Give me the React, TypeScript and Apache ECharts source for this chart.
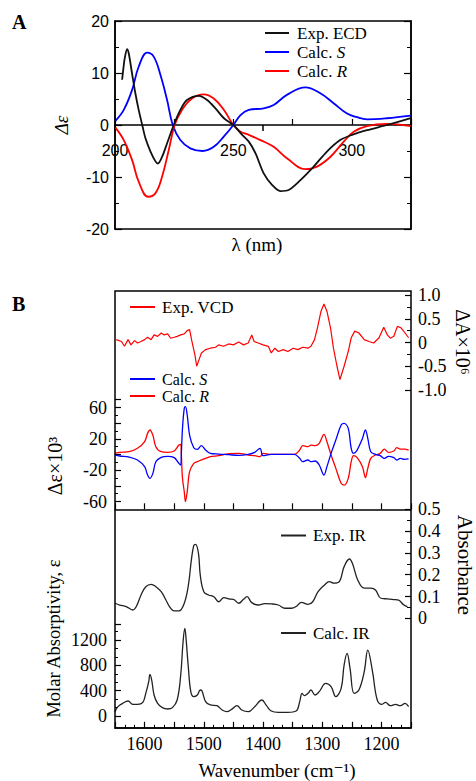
import React, { useEffect, useRef } from 'react';
import * as echarts from 'echarts';

// ---------- Panel A: ECD (wavelength in nm, Δε) ----------
const ecdExpX = [203.0, 203.4, 204.1, 205.1, 205.8, 207.2, 208.6, 210.0, 211.5, 212.9, 215.0, 217.1, 218.1, 219.9, 222.0, 224.8, 227.6, 230.4, 235.4, 238.9, 242.4, 246.0, 250.0, 253.7, 256.5, 259.3, 262.8, 266.3, 269.8, 273.3, 278.3, 283.9, 289.5, 295.1, 300.1, 306.4, 314.8, 324.9];
const ecdExpY = [8.7, 10.3, 12.8, 14.6, 13.8, 9.9, 6.1, 2.9, 0, -2.6, -5.1, -7.0, -7.4, -6.1, -3.5, 0, 2.9, 4.8, 5.6, 4.8, 3.2, 1.3, 0, -1.9, -3.2, -5.4, -9.3, -11.5, -12.7, -12.5, -10.6, -8.0, -5.1, -2.9, -1.9, -1.0, 0, 1.3];

const ecdSX = [200.2, 203.7, 207.2, 210.0, 213.6, 216.4, 219.2, 222.0, 224.4, 227.6, 231.8, 237.0, 241.7, 246.0, 250.0, 253.0, 256.5, 262.8, 267.0, 272.6, 280.4, 286.7, 292.3, 298.0, 302.2, 306.4, 314.8, 324.9];
const ecdSY = [0.8, 2.9, 6.7, 11.2, 13.9, 13.1, 9.6, 4.8, 0, -2.9, -4.5, -5.0, -4.2, -2.2, 0, 1.9, 2.9, 3.2, 3.85, 5.8, 7.25, 6.1, 4.2, 2.2, 1.5, 1.1, 1.3, 1.8];

const ecdRX = [200.2, 203.7, 207.2, 210.0, 214.0, 217.1, 219.9, 222.7, 225.2, 228.3, 232.5, 237.5, 241.7, 246.0, 250.0, 253.0, 256.5, 261.4, 267.0, 272.6, 280.4, 285.3, 291.0, 296.6, 300.8, 306.4, 314.8, 324.9];
const ecdRY = [-0.5, -2.9, -6.7, -10.9, -13.8, -13.1, -9.9, -4.8, 0, 2.9, 5.1, 5.9, 5.1, 2.9, 0, -1.3, -1.9, -2.9, -4.2, -6.4, -8.5, -8.0, -6.1, -3.2, -1.3, -0.2, 0.2, -0.2];

// ---------- Panel B: VCD / IR (wavenumber in cm-1) ----------
const vcdExpX = [1648, 1639, 1634, 1628, 1623, 1617, 1612, 1606, 1600, 1595, 1589, 1584, 1578, 1572, 1567, 1561, 1556, 1550, 1545, 1539, 1533, 1528, 1524, 1520, 1515, 1512, 1508, 1504, 1497, 1489, 1480, 1475, 1467, 1458, 1450, 1441, 1433, 1425, 1419, 1415, 1408, 1400, 1391, 1386, 1380, 1374, 1366, 1358, 1349, 1341, 1333, 1324, 1319, 1313, 1308, 1302, 1297, 1292, 1286, 1281, 1275, 1270, 1263, 1256, 1251, 1245, 1238, 1229, 1221, 1213, 1204, 1196, 1190, 1185, 1179, 1173, 1167, 1160, 1154];
const vcdExpY = [0.06, 0.02, -0.08, 0.06, -0.05, 0.04, -0.01, 0.02, 0.06, 0.11, 0.06, 0.16, 0.13, 0.20, 0.16, 0.18, 0.09, 0.11, 0.13, 0.16, 0.18, 0.25, 0.27, 0.02, -0.26, -0.50, -0.36, -0.22, -0.15, -0.12, -0.10, -0.05, -0.08, -0.03, -0.05, 0.01, -0.05, -0.01, 0.16, 0.02, -0.01, -0.05, -0.08, -0.22, -0.12, -0.19, -0.15, -0.19, -0.12, -0.15, -0.10, -0.12, -0.08, 0.06, 0.31, 0.66, 0.81, 0.66, 0.31, -0.12, -0.50, -0.78, -0.50, -0.19, 0.10, 0.24, 0.20, 0.06, 0.02, -0.01, 0.10, 0.32, 0.16, 0.09, 0.13, 0.34, 0.31, 0.20, 0.10];

const vcdCalcX = [1650, 1642, 1626, 1612, 1600, 1595, 1591, 1586, 1581, 1572, 1561, 1550, 1542, 1539, 1538, 1536, 1533, 1531, 1528, 1524, 1517, 1511, 1504, 1497, 1489, 1475, 1458, 1441, 1425, 1414, 1405, 1400, 1386, 1347, 1338, 1333, 1324, 1319, 1312, 1305, 1297, 1292, 1285, 1277, 1268, 1263, 1256, 1251, 1247, 1241, 1232, 1227, 1223, 1218, 1210, 1202, 1195, 1188, 1179, 1174, 1168, 1161, 1154];
const vcdRY = [1.5, 2.8, 3.6, 7.9, 16.4, 27.0, 31.3, 24.6, 10.0, 3.6, 2.8, 4.5, 12.1, 13.0, 1.5, -30.4, -47.5, -60.2, -47.5, -21.9, -11.3, -9.2, -7.0, -4.9, -2.8, -1.5, 1.1, 1.5, -0.6, -1.5, -2.8, 1.5, 0.2, 0.2, 5.7, 11.3, 10.0, 12.1, 11.3, 14.3, 25.8, 16.4, -0.6, -17.7, -36.8, -39.0, -30.4, -9.2, -1.5, -4.0, -15.5, -29.6, -17.7, -4.9, -0.6, 1.5, 7.0, 2.8, 4.5, 8.7, 7.0, 7.0, 5.7];
const vcdSY = [-0.6, -1.9, -3.2, -7.0, -15.5, -26.2, -30.4, -24.1, -9.2, -3.6, -2.3, -4.0, -11.3, -13.4, -0.6, 33.4, 59.0, 61.1, 50.4, 24.9, 8.7, 6.6, 11.3, 5.7, 1.5, 0.6, -0.2, -1.1, 0.2, 2.8, 7.9, -1.5, 0.2, 0.2, -4.9, -9.2, -7.0, -9.2, -8.3, -13.4, -26.2, -15.5, 1.5, 18.5, 37.7, 39.8, 33.4, 7.9, 1.5, 5.7, 20.6, 31.3, 20.6, 3.6, 0.2, -1.5, -4.9, -2.3, -4.0, -7.0, -4.9, -6.2, -5.7];

const irExpX = [1650, 1642, 1631, 1620, 1614, 1606, 1598, 1589, 1581, 1572, 1564, 1558, 1550, 1542, 1533, 1526, 1521, 1517, 1514, 1509, 1506, 1500, 1492, 1483, 1475, 1466, 1458, 1450, 1441, 1433, 1427, 1419, 1408, 1397, 1386, 1374, 1363, 1352, 1344, 1335, 1324, 1316, 1307, 1296, 1288, 1280, 1271, 1263, 1254, 1249, 1240, 1229, 1218, 1210, 1201, 1190, 1179, 1171, 1162, 1156];
const irExpY = [0.069, 0.061, 0.054, 0.038, 0.054, 0.107, 0.145, 0.156, 0.145, 0.122, 0.084, 0.054, 0.034, 0.034, 0.069, 0.153, 0.268, 0.333, 0.339, 0.298, 0.199, 0.122, 0.107, 0.099, 0.076, 0.095, 0.089, 0.087, 0.069, 0.087, 0.099, 0.072, 0.061, 0.067, 0.066, 0.061, 0.046, 0.046, 0.054, 0.073, 0.064, 0.076, 0.122, 0.153, 0.168, 0.161, 0.168, 0.237, 0.272, 0.252, 0.176, 0.138, 0.138, 0.130, 0.092, 0.089, 0.086, 0.083, 0.061, 0.054];

const irCalcX = [1650, 1645, 1637, 1628, 1620, 1612, 1603, 1598, 1593, 1591, 1588, 1584, 1578, 1570, 1561, 1553, 1545, 1539, 1535, 1532, 1530, 1526, 1522, 1517, 1511, 1506, 1503, 1497, 1489, 1478, 1469, 1461, 1453, 1444, 1436, 1425, 1414, 1402, 1394, 1386, 1374, 1358, 1344, 1338, 1334, 1330, 1324, 1319, 1312, 1305, 1294, 1285, 1277, 1268, 1263, 1258, 1253, 1246, 1238, 1229, 1223, 1215, 1207, 1199, 1193, 1185, 1176, 1168, 1160, 1154];
const irCalcY = [68, 148, 200, 237, 184, 184, 216, 358, 543, 659, 569, 332, 200, 132, 111, 132, 253, 648, 1175, 1386, 1228, 754, 385, 306, 332, 411, 395, 227, 174, 163, 95, 68, 105, 163, 95, 68, 148, 253, 163, 79, 58, 58, 79, 227, 358, 321, 358, 411, 332, 385, 516, 464, 306, 437, 806, 991, 754, 358, 411, 701, 1043, 701, 253, 184, 216, 163, 184, 163, 200, 148];

const zip = (xs: number[], ys: number[]) => xs.map((x, i) => [x, ys[i]]);

const SERIF = '"Liberation Serif", "Times New Roman", "DejaVu Serif", serif';
const SANS = '"Liberation Sans", Arial, sans-serif';
const RED = '#ff0000';
const BLUE = '#0000ff';
const BLACK = '#111111';

export default function App() {
  const ref = useRef<HTMLDivElement>(null);

  useEffect(() => {
    document.body.style.margin = '0';
    const chart = echarts.init(ref.current as HTMLDivElement, null, { renderer: 'svg' });

    const tick = (len: number) => ({ show: true, inside: true, length: len, lineStyle: { color: '#000', width: 1.2 } });
    const minor = (split: number, len: number) => ({ show: true, splitNumber: split, length: len, lineStyle: { color: '#000', width: 1 } });
    const axLine = { show: true, lineStyle: { color: '#000', width: 1.5 } };

    const bX = (gridIndex: number, shown: boolean) => ({
      gridIndex, type: 'value', min: 1150, max: 1650, inverse: true, interval: 50,
      show: shown, splitLine: { show: false },
    });

    const lineSeries = (name: string, xi: number, yi: number, data: number[][], color: string, width: number, smooth: boolean | number) => ({
      name, type: 'line', xAxisIndex: xi, yAxisIndex: yi, data, symbol: 'none', showSymbol: false,
      smooth, lineStyle: { color, width }, itemStyle: { color }, silent: true,
    });

    const legendEntry = (x1: number, x2: number, y: number, color: string, tx: number, text: string, italic?: string, size = 17) => {
      const base = { fontFamily: SERIF, fontSize: size, fill: '#000' };
      return [
        { type: 'line', shape: { x1, y1: y, x2, y2: y }, style: { stroke: color, lineWidth: 2 } },
        italic
          ? {
              type: 'text', x: tx, y,
              style: {
                text: `{n|${text}}{i|${italic}}`, verticalAlign: 'middle', fill: '#000',
                rich: { n: { fontFamily: SERIF, fontSize: size, color: '#000', lineHeight: size }, i: { fontFamily: SERIF, fontSize: size, fontStyle: 'italic', color: '#000', lineHeight: size } },
              },
            }
          : { type: 'text', x: tx, y, style: { ...base, text, verticalAlign: 'middle' } },
      ];
    };

    const rotText = (x: number, y: number, text: string, rot: number, size: number, style: any = {}) => ({
      type: 'text', x, y, rotation: rot,
      style: { text, fontFamily: SERIF, fontSize: size, fill: '#000', align: 'center', verticalAlign: 'middle', ...style },
    });

    const option: any = {
      animation: false,
      backgroundColor: '#ffffff',
      textStyle: { fontFamily: SERIF, color: '#000' },
      grid: [
        { left: 115, top: 21, width: 296, height: 208, show: true, borderColor: '#000', borderWidth: 1.5 },
        { left: 115, top: 291, width: 296, height: 218.3 },
        { left: 115, top: 295, width: 296, height: 95 },
        { left: 115, top: 399.7, width: 296, height: 101.8 },
        { left: 115, top: 509.3, width: 296, height: 218.5 },
        { left: 115, top: 509.3, width: 296, height: 109 },
        { left: 115, top: 624.3, width: 296, height: 91.7 },
        // upper half of panel A: its bottom edge is the Δε = 0 line, where the λ axis sits
        { left: 115, top: 21, width: 296, height: 104 },
      ],
      xAxis: [
        { gridIndex: 0, type: 'value', min: 200, max: 325, show: false },
        {
          ...bX(1, true),
          axisLine: { ...axLine, onZero: false },
          axisTick: tick(6),
          axisLabel: { show: false },
        },
        bX(2, false),
        bX(3, false),
        {
          ...bX(4, true),
          axisLine: { ...axLine, onZero: false },
          axisTick: tick(6),
          minorTick: minor(3, 3),
          axisLabel: {
            color: '#000', fontFamily: SERIF, fontSize: 18, margin: 7,
            formatter: (v: number) => (v % 100 === 0 && v >= 1200 && v <= 1600 ? String(v) : ''),
          },
        },
        bX(5, false),
        bX(6, false),
        {
          gridIndex: 7, type: 'value', min: 200, max: 325, interval: 25, position: 'bottom',
          axisLine: { ...axLine, onZero: false },
          axisTick: tick(6),
          axisLabel: { color: '#000', fontFamily: SANS, fontSize: 16, margin: 17, formatter: (v: number) => (v % 50 === 0 ? String(v) : '') },
          splitLine: { show: false },
        },
        {
          gridIndex: 7, type: 'value', min: 200, max: 300, interval: 50, position: 'bottom',
          axisLine: { show: false, onZero: false },
          axisTick: { show: true, inside: false, length: 6, lineStyle: { color: '#000', width: 1.5 } },
          axisLabel: { show: false },
          splitLine: { show: false },
        },
      ],
      yAxis: [
        {
          gridIndex: 0, type: 'value', min: -20, max: 20, interval: 10, position: 'left',
          axisLine: axLine, axisTick: tick(7), minorTick: minor(2, 4),
          axisLabel: { color: '#000', fontFamily: SANS, fontSize: 16, margin: 6 },
          splitLine: { show: false },
        },
        {
          gridIndex: 0, type: 'value', min: -20, max: 20, interval: 10, position: 'right',
          axisLine: axLine, axisTick: tick(7), minorTick: minor(2, 4),
          axisLabel: { show: false }, splitLine: { show: false },
        },
        { gridIndex: 1, type: 'value', min: 0, max: 1, show: false },
        {
          gridIndex: 2, type: 'value', min: -1, max: 1, interval: 0.5, position: 'right',
          axisLine: { show: false }, axisTick: tick(6), minorTick: minor(2, 4),
          axisLabel: { color: '#000', fontFamily: SERIF, fontSize: 18, margin: 7, formatter: (v: number) => (v === 0 ? '0' : v.toFixed(1)) },
          splitLine: { show: false },
        },
        {
          gridIndex: 3, type: 'value', min: -60, max: 70, interval: 20, position: 'left',
          axisLine: { show: false }, axisTick: tick(6), minorTick: minor(2, 3),
          axisLabel: {
            color: '#000', fontFamily: SERIF, fontSize: 18, margin: 8,
            formatter: (v: number) => ([-60, -20, 20, 60].indexOf(v) >= 0 ? String(v) : ''),
          },
          splitLine: { show: false },
        },
        { gridIndex: 4, type: 'value', min: 0, max: 1, show: false },
        {
          gridIndex: 5, type: 'value', min: 0, max: 0.5, interval: 0.1, position: 'right',
          axisLine: { show: false }, axisTick: tick(6), minorTick: minor(2, 4),
          axisLabel: { color: '#000', fontFamily: SERIF, fontSize: 18, margin: 7, formatter: (v: number) => (v === 0 ? '0' : v.toFixed(1)) },
          splitLine: { show: false },
        },
        {
          gridIndex: 6, type: 'value', min: 0, max: 1450, interval: 400, position: 'left',
          axisLine: { show: false }, axisTick: tick(6), minorTick: minor(3, 3),
          axisLabel: {
            color: '#000', fontFamily: SERIF, fontSize: 18, margin: 8,
            formatter: (v: number) => (v % 400 === 0 ? String(v) : ''),
          },
          splitLine: { show: false },
        },
        { gridIndex: 7, type: 'value', min: 0, max: 1, show: false },
      ],
      series: [
        lineSeries('Calc. S (ECD)', 0, 0, zip(ecdSX, ecdSY), BLUE, 1.8, 0.4),
        lineSeries('Calc. R (ECD)', 0, 0, zip(ecdRX, ecdRY), RED, 1.8, 0.4),
        lineSeries('Exp. ECD', 0, 0, zip(ecdExpX, ecdExpY), BLACK, 1.8, 0.3),
        lineSeries('Exp. VCD', 2, 3, zip(vcdExpX, vcdExpY), RED, 1.2, false),
        lineSeries('Calc. R (VCD)', 3, 4, zip(vcdCalcX, vcdRY), RED, 1.3, 0.35),
        lineSeries('Calc. S (VCD)', 3, 4, zip(vcdCalcX, vcdSY), BLUE, 1.3, 0.35),
        lineSeries('Exp. IR', 5, 6, zip(irExpX, irExpY), '#222222', 1.3, 0.4),
        lineSeries('Calc. IR', 6, 7, zip(irCalcX, irCalcY), '#222222', 1.3, 0.4),
      ],
      graphic: [
        { type: 'rect', shape: { x: 115, y: 291, width: 296, height: 437 }, style: { fill: 'none', stroke: '#000', lineWidth: 1.5 }, z: 10 },
        { type: 'text', x: 12, y: 22, style: { text: 'A', fontFamily: SERIF, fontSize: 20, fontWeight: 'bold', fill: '#000', verticalAlign: 'middle' } },
        { type: 'text', x: 12, y: 304, style: { text: 'B', fontFamily: SERIF, fontSize: 20, fontWeight: 'bold', fill: '#000', verticalAlign: 'middle' } },
        rotText(61, 125, 'Δε', Math.PI / 2, 19, { fontStyle: 'italic' }),
        rotText(257, 244, 'λ (nm)', 0, 19),
        ...legendEntry(265, 289, 33, BLACK, 297, 'Exp. ECD'),
        ...legendEntry(265, 289, 52, BLUE, 297, 'Calc. ', 'S'),
        ...legendEntry(265, 289, 71, RED, 297, 'Calc. ', 'R'),
        ...legendEntry(130, 155, 307, RED, 162, 'Exp. VCD'),
        ...legendEntry(130, 155, 379, BLUE, 162, 'Calc. ', 'S', 16),
        ...legendEntry(130, 155, 396, RED, 162, 'Calc. ', 'R', 16),
        ...legendEntry(281, 306, 535.5, '#222222', 313, 'Exp. IR'),
        ...legendEntry(281, 306, 633, '#222222', 313, 'Calc. IR'),
        rotText(54.5, 466, 'Δε×10³', Math.PI / 2, 20),
        rotText(53.5, 638.5, 'Molar Absorptivity, ε', Math.PI / 2, 18.5),
        rotText(463, 342, 'ΔA×10⁶', -Math.PI / 2, 20),
        rotText(465, 565, 'Absorbance', -Math.PI / 2, 21),
        rotText(277, 770, 'Wavenumber (cm⁻¹)', 0, 19),
      ],
    };

    chart.setOption(option);
    return () => chart.dispose();
  }, []);

  return (
    <div
      ref={ref}
      style={{ position: 'absolute', left: 0, top: 0, width: 476, height: 781, background: '#fff' }}
    />
  );
}
